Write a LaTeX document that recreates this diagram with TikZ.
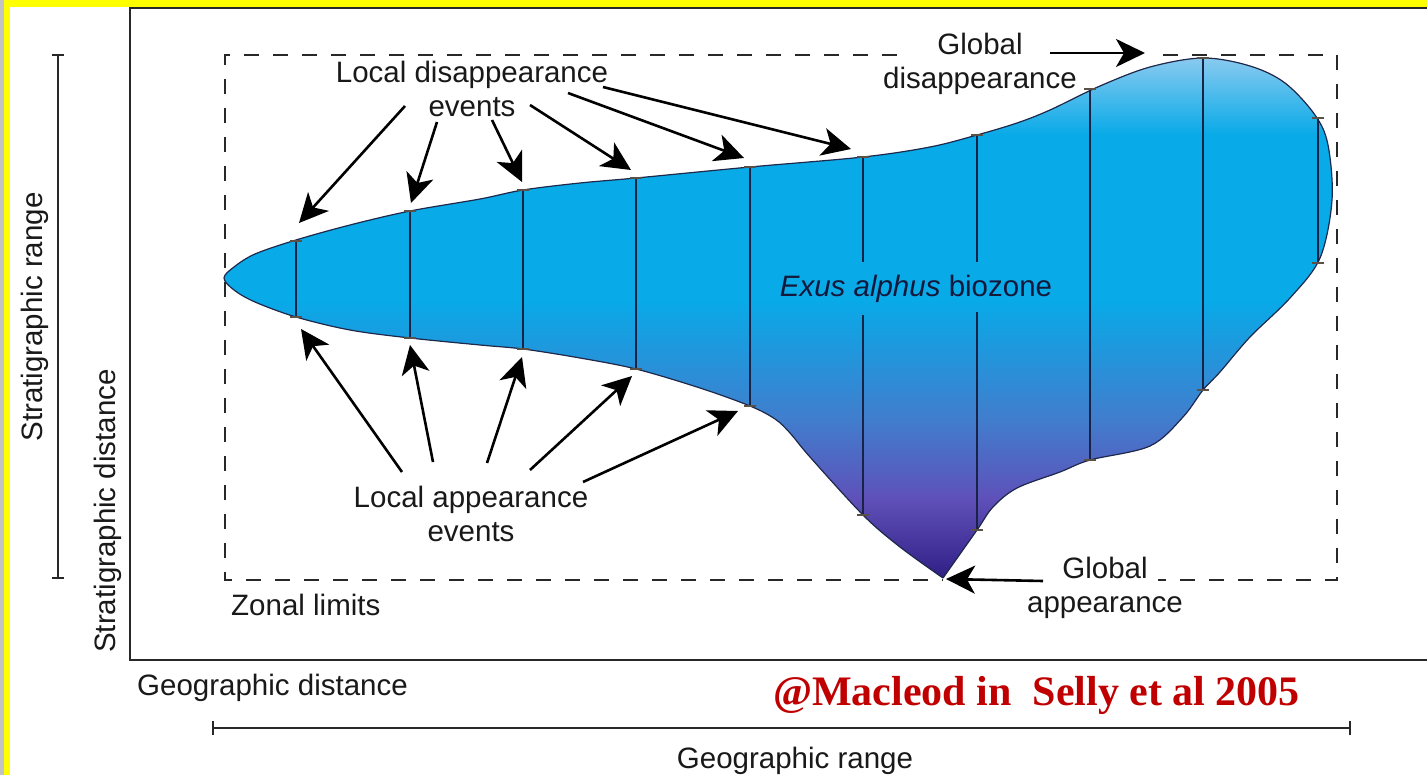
\documentclass[tikz,border=0pt]{standalone}
\usepackage{fontspec}
\setmainfont{Liberation Sans}
\newfontfamily\redfont{Liberation Serif}
\usetikzlibrary{arrows.meta}
\definecolor{frameC}{RGB}{40,40,40}
\definecolor{yel}{RGB}{255,255,0}
\definecolor{grayC}{RGB}{195,195,195}
\definecolor{barC}{RGB}{25,35,70}
\definecolor{tickC}{RGB}{90,80,70}
\definecolor{edgeC}{RGB}{30,40,75}
\definecolor{cA}{RGB}{150,205,240}
\definecolor{cB}{RGB}{8,170,232}
\definecolor{cC}{RGB}{65,125,205}
\definecolor{cD}{RGB}{95,80,185}
\definecolor{cE}{RGB}{45,28,130}
\definecolor{txtC}{RGB}{20,25,60}
\definecolor{redC}{RGB}{192,0,0}
\begin{document}
\begin{tikzpicture}[x=1pt,y=-1pt,
  font=\fontsize{29.5}{34}\selectfont,
  lbl/.style={inner sep=0pt, align=center, text=black!90},
  arr/.style={line width=2.6pt, black, -{Stealth[length=29pt,width=28pt,inset=8pt]}},
  zone/.style={line width=2pt, frameC, dash pattern=on 15pt off 14pt},
  axisline/.style={line width=2pt, frameC},
  bar/.style={line width=1.3pt, barC},
  tickmark/.style={line width=1.2pt, tickC}]
\useasboundingbox (0,0) rectangle (1427,775);
\fill[white] (0,0) rectangle (1427,775);
% yellow border
\fill[grayC] (0,0) rectangle (4,775);
\fill[yel] (4,0) rectangle (10,775);
\fill[yel] (4,0) rectangle (1427,7);
% frame
\draw[axisline] (1427,8) -- (130,8) -- (130,660) -- (1427,660);
% range bars
\coordinate (sr1) at (58,55);
\coordinate (sr2) at (58,578);
\draw[axisline] (sr1) -- (sr2);
\draw[axisline] (sr1) ++(-6,0) -- ++(12,0);
\draw[axisline] (sr2) ++(-6,0) -- ++(12,0);
\coordinate (gr1) at (213,728);
\coordinate (gr2) at (1350,728);
\draw[axisline] (gr1) -- (gr2);
\draw[axisline] (gr1) ++(0,-7) -- ++(0,14);
\draw[axisline] (gr2) ++(0,-7) -- ++(0,14);
% zonal limits
\draw[zone] (897,55) -- (225,55) -- (225,580) -- (943,580);
\draw[zone] (1163,55) -- (1337,55) -- (1337,580) -- (1158,580);
% biozone fill
\begin{scope}
\clip plot[smooth, tension=0.55] coordinates {(943,578) (900,547) (863,515) (810,457) (790,433) (775,419) (750,406) (700,388) (636,369) (580,358) (523,349) (480,345) (410,338) (350,330) (296,317) (255,302) (234,290) (224,278) (234,267) (255,254) (296,240) (350,225) (410,211) (480,199) (523,190) (580,183) (636,178) (750,167) (863,157) (930,147) (977,135) (1017,123) (1050,110) (1100,86) (1150,67) (1203,58) (1250,66) (1285,83) (1315,115) (1328,145) (1332,200) (1320,258) (1290,298) (1250,337) (1220,372) (1203,390) (1183,417) (1150,446) (1090,460) (1060,472) (1017,488) (993,507) (977,530) (943,578)} -- cycle;
\fill[top color=cA, bottom color=cB] (200,50) rectangle (1345,135);
\fill[cB] (200,134.5) rectangle (1345,300.5);
\fill[top color=cB, bottom color=cC] (200,300) rectangle (1345,420);
\fill[top color=cC, bottom color=cD] (200,419.5) rectangle (1345,500);
\fill[top color=cD, bottom color=cE] (200,499.5) rectangle (1345,582);
\end{scope}
\draw[line width=1.2pt, edgeC, line join=round] plot[smooth, tension=0.55] coordinates {(943,578) (900,547) (863,515) (810,457) (790,433) (775,419) (750,406) (700,388) (636,369) (580,358) (523,349) (480,345) (410,338) (350,330) (296,317) (255,302) (234,290) (224,278) (234,267) (255,254) (296,240) (350,225) (410,211) (480,199) (523,190) (580,183) (636,178) (750,167) (863,157) (930,147) (977,135) (1017,123) (1050,110) (1100,86) (1150,67) (1203,58) (1250,66) (1285,83) (1315,115) (1328,145) (1332,200) (1320,258) (1290,298) (1250,337) (1220,372) (1203,390) (1183,417) (1150,446) (1090,460) (1060,472) (1017,488) (993,507) (977,530) (943,578)} -- cycle;
% section bars
\coordinate (t1) at (296,241); \coordinate (b1) at (296,317);
\coordinate (t2) at (410,211); \coordinate (b2) at (410,338);
\coordinate (t3) at (523,190); \coordinate (b3) at (523,349);
\coordinate (t4) at (636,178); \coordinate (b4) at (636,369);
\coordinate (t5) at (750,167); \coordinate (b5) at (750,406);
\coordinate (t6) at (863,157); \coordinate (b6) at (863,515);
\coordinate (t7) at (977,135); \coordinate (b7) at (977,530);
\coordinate (t8) at (1090,89); \coordinate (b8) at (1090,460);
\coordinate (t9) at (1203,58); \coordinate (b9) at (1203,390);
\coordinate (t10) at (1318,118); \coordinate (b10) at (1318,263);
\foreach \i in {1,2,3,4,5,8,9,10}{
  \draw[bar] (t\i) -- (b\i);
}
\draw[bar] (t6) -- (863,262); \draw[bar] (863,315) -- (b6);
\draw[bar] (t7) -- (977,262); \draw[bar] (977,312) -- (b7);
\foreach \i in {1,...,10}{
  \draw[tickmark] (t\i) ++(-6,0) -- ++(12,0);
  \draw[tickmark] (b\i) ++(-6,0) -- ++(12,0);
}
% labels
\node[lbl] (lde) at (472,88.5) {Local disappearance\\events};
\node[lbl] (gd) at (980,64) {Global\\disappearance};
\node[lbl] (lae) at (471,513.5) {Local appearance\\events};
\node[lbl] (ga) at (1105,587.5) {Global\\appearance};
\node[lbl, anchor=base west] (zl) at (231,615) {Zonal limits};
\node[lbl, anchor=base west] (gdist) at (137,695) {Geographic distance};
\node[lbl, anchor=base] (grange) at (795,768) {Geographic range};
\node[lbl, anchor=base, rotate=90] (srange) at (42,317) {Stratigraphic range};
\node[lbl, anchor=base, rotate=90] (sdist) at (115,511) {Stratigraphic distance};
\node[lbl, anchor=base, text=txtC] (bz) at (916,297) {\itshape Exus alphus\upshape{} biozone};
\node[inner sep=0pt, anchor=base west, text=redC, font=\redfont\bfseries\fontsize{42}{48}\selectfont] (cred) at (773,705) {@Macleod in~~Selly et al 2005};
% arrows: local disappearance
\coordinate (d1s) at (405,106); \coordinate (d1e) at (299,223);
\coordinate (d2s) at (437,122); \coordinate (d2e) at (411,203);
\coordinate (d3s) at (492,120); \coordinate (d3e) at (522,182);
\coordinate (d4s) at (530,105); \coordinate (d4e) at (631,170);
\coordinate (d5s) at (568,93);  \coordinate (d5e) at (744,158);
\coordinate (d6s) at (603,87);  \coordinate (d6e) at (851,149);
\foreach \i in {1,...,6}{ \draw[arr] (d\i s) -- (d\i e); }
% global disappearance
\coordinate (gds) at (1050,53); \coordinate (gde) at (1145,53);
\draw[arr] (gds) -- (gde);
% local appearance
\coordinate (a1s) at (402,472); \coordinate (a1e) at (301,329);
\coordinate (a2s) at (433,462); \coordinate (a2e) at (410,345);
\coordinate (a3s) at (487,463); \coordinate (a3e) at (522,357);
\coordinate (a4s) at (530,470); \coordinate (a4e) at (632,376);
\coordinate (a5s) at (583,482); \coordinate (a5e) at (738,411);
\foreach \i in {1,...,5}{ \draw[arr] (a\i s) -- (a\i e); }
% global appearance
\coordinate (gas) at (1043,581); \coordinate (gae) at (946,579);
\draw[arr] (gas) -- (gae);
\end{tikzpicture}
\end{document}
